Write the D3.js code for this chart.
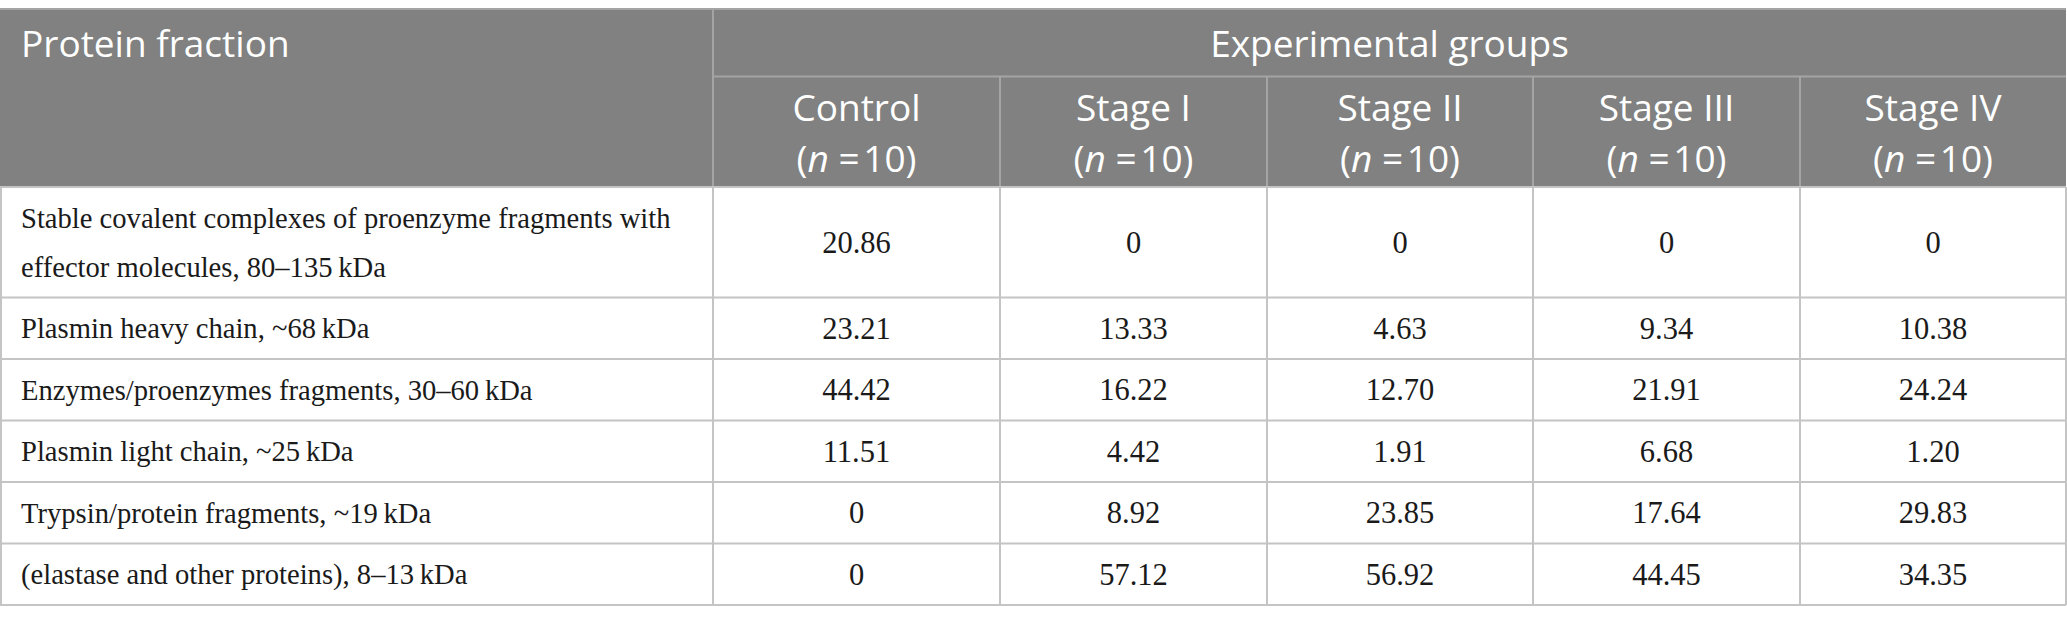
<!DOCTYPE html>
<html>
<head>
<meta charset="utf-8">
<script src="https://cdn.jsdelivr.net/npm/d3@7"></script>
<style>
  html, body { margin: 0; padding: 0; background: #fff; }
  svg { display: block; }
</style>
</head>
<body>
<svg id="chart" width="2067" height="624"></svg>
<script>
// ---- data ----
const rowHeader = "Protein fraction";
const groupHeader = "Experimental groups";
const groups = ["Control", "Stage I", "Stage II", "Stage III", "Stage IV"];
const groupN = [10, 10, 10, 10, 10];
const fractions = [
  "Stable covalent complexes of proenzyme fragments with effector molecules, 80\u2013135\u2009kDa",
  "Plasmin heavy chain, ~68\u2009kDa",
  "Enzymes/proenzymes fragments, 30\u201360\u2009kDa",
  "Plasmin light chain, ~25\u2009kDa",
  "Trypsin/protein fragments, ~19\u2009kDa",
  "(elastase and other proteins), 8\u201313\u2009kDa"
];
const control  = [20.86, 23.21, 44.42, 11.51, 0, 0];
const stageI   = [0, 13.33, 16.22, 4.42, 8.92, 57.12];
const stageII  = [0, 4.63, 12.70, 1.91, 23.85, 56.92];
const stageIII = [0, 9.34, 21.91, 6.68, 17.64, 44.45];
const stageIV  = [0, 10.38, 24.24, 1.20, 29.83, 34.35];
const seriesValues = [control, stageI, stageII, stageIII, stageIV];

// ---- layout / style ----
const tableTop = 9, headRow1Bottom = 76.5, headBottom = 187;
const colEdges = [0, 713, 1000, 1267, 1533, 1800, 2066];
const padX = 21;
const bodyFont = "'Liberation Serif', 'Times New Roman', serif";
const headFont = "'Open Sans', 'Noto Sans', sans-serif";
const bodySize = 28.6, numSize = 30.5, headSize = 37;
const lineH = 49, rowPad = 12.5;
const headBg = "#808180";
const headLine = "#a3a4a3";
const gridLine = "#c4c4c4";

const svg = d3.select("#chart");
const fmt = v => v === 0 ? "0" : d3.format(".2f")(v);

// column scale: ordinal index -> left edge
const colX = d3.scaleOrdinal().domain(d3.range(colEdges.length)).range(colEdges);
const colCenter = i => (colX(i) + colX(i + 1)) / 2;

// measure & wrap labels
const measure = svg.append("text").attr("font-family", bodyFont).attr("font-size", bodySize).attr("visibility", "hidden");
function wrap(str, maxW) {
  const words = str.split(" ");
  const lines = [];
  let cur = "";
  words.forEach(w => {
    const test = cur ? cur + " " + w : w;
    measure.text(test);
    if (measure.node().getComputedTextLength() > maxW && cur) {
      lines.push(cur); cur = w;
    } else cur = test;
  });
  if (cur) lines.push(cur);
  return lines;
}
const wrapped = fractions.map(f => wrap(f, colEdges[1] - 2 * padX));
measure.remove();

// row positions
const rowTops = [];
let yAcc = headBottom;
wrapped.forEach(lines => {
  const h = rowPad + lines.length * lineH;
  rowTops.push([yAcc, yAcc + h]);
  yAcc += h;
});
const tableBottom = yAcc;

// header background
svg.append("rect").attr("x", 0).attr("y", tableTop).attr("width", colEdges[6]).attr("height", headBottom - tableTop).attr("fill", headBg);

// header lines
const hl = svg.append("g").attr("stroke", headLine).attr("stroke-width", 2);
hl.append("line").attr("x1", colEdges[1]).attr("x2", colEdges[6]).attr("y1", headRow1Bottom).attr("y2", headRow1Bottom);
hl.append("line").attr("x1", colEdges[1]).attr("x2", colEdges[1]).attr("y1", tableTop).attr("y2", headBottom);
d3.range(2, 6).forEach(i => {
  hl.append("line").attr("x1", colEdges[i]).attr("x2", colEdges[i]).attr("y1", headRow1Bottom).attr("y2", headBottom);
});
hl.append("line").attr("x1", 0).attr("x2", colEdges[6]).attr("y1", tableTop).attr("y2", tableTop);

// header text
const ht = svg.append("g").attr("fill", "#fff").attr("font-family", headFont).attr("font-size", headSize);
ht.append("text").attr("x", padX).attr("y", 57).text(rowHeader);
ht.append("text").attr("x", (colEdges[1] + colEdges[6]) / 2).attr("y", 57).attr("text-anchor", "middle").text(groupHeader);
groups.forEach((g, i) => {
  const cx = colCenter(i + 1);
  ht.append("text").attr("x", cx).attr("y", 121).attr("text-anchor", "middle").text(g);
  const t = ht.append("text").attr("x", cx).attr("y", 172).attr("text-anchor", "middle");
  t.append("tspan").text("(");
  t.append("tspan").attr("font-style", "italic").text("n");
  t.append("tspan").text(" =\u200a" + groupN[i] + ")");
});

// body grid
const gl = svg.append("g").attr("stroke", gridLine).attr("stroke-width", 2);
rowTops.forEach(([t, b]) => {
  gl.append("line").attr("x1", 0).attr("x2", colEdges[6]).attr("y1", b).attr("y2", b);
});
colEdges.forEach((x, i) => {
  gl.append("line").attr("x1", i === 0 ? 1 : x).attr("x2", i === 0 ? 1 : x).attr("y1", headBottom).attr("y2", tableBottom);
});
gl.append("line").attr("x1", 0).attr("x2", colEdges[6]).attr("y1", headBottom).attr("y2", headBottom);

// body text
const bt = svg.append("g").attr("fill", "#1a1a1a").attr("font-family", bodyFont);
wrapped.forEach((lines, r) => {
  const [t, b] = rowTops[r];
  const mid = (t + b) / 2;
  const firstBase = mid + 10 - (lines.length - 1) * lineH / 2;
  const txt = bt.append("text").attr("x", padX).attr("font-size", bodySize);
  lines.forEach((ln, k) => {
    txt.append("tspan").attr("x", padX).attr("y", firstBase + k * lineH).text(ln);
  });
  seriesValues.forEach((vals, c) => {
    bt.append("text").attr("x", colCenter(c + 1)).attr("y", mid + 10.5).attr("font-size", numSize)
      .attr("text-anchor", "middle").text(fmt(vals[r]));
  });
});
</script>
</body>
</html>
